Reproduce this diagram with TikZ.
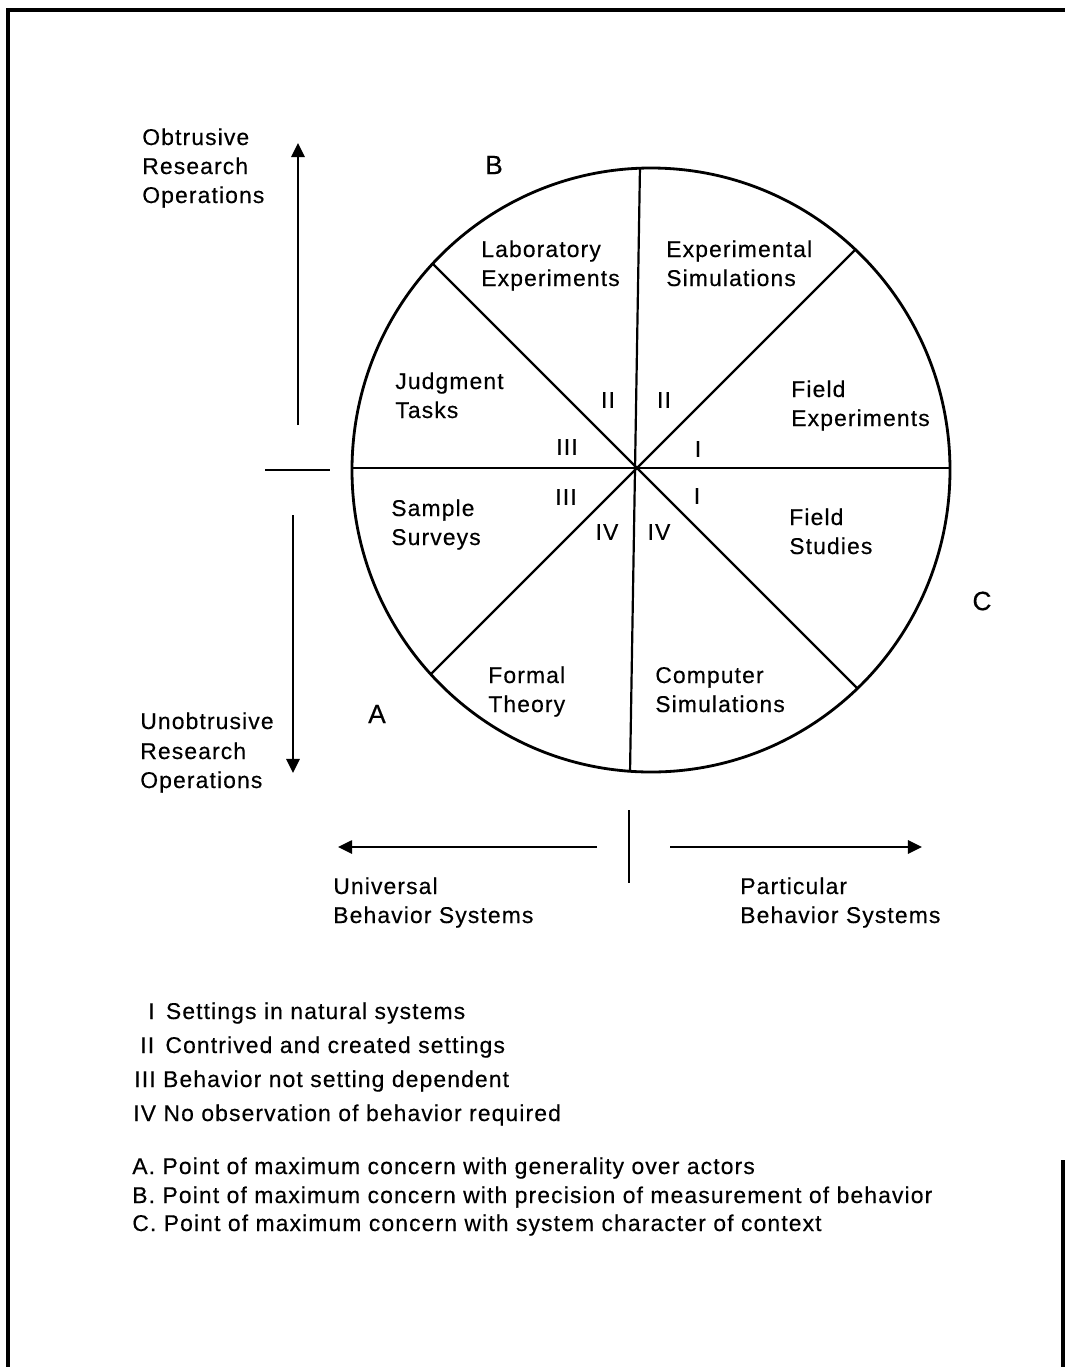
\documentclass[tikz,border=0pt]{standalone}
\usepackage{fontspec}
\setmainfont[LetterSpace=5,BoldFont={Liberation Sans},BoldFeatures={FakeBold=0.4,LetterSpace=5}]{Liberation Sans}
\usetikzlibrary{arrows.meta}
\begin{document}
\begin{tikzpicture}[x=0.02cm,y=-0.02cm,
  txt/.style={anchor=base west,inner sep=0pt,font=\fontsize{13}{16}\selectfont\bfseries},
  num/.style={anchor=center,inner sep=0pt,font=\fontsize{13}{16}\selectfont\bfseries},
  letter/.style={anchor=center,inner sep=0pt,font=\fontsize{15}{18}\selectfont\bfseries},
  axis/.style={line width=1.3pt,-{Triangle[length=8pt,width=7.5pt]}},
  rim/.style={line width=1.6pt},
  spoke/.style={line width=1.25pt}]
\useasboundingbox (0,0) rectangle (1065,1367);
% frame
\draw[line width=2.6pt] (8,1367) -- (8,10) -- (1065,10);
\draw[line width=1.8pt] (1063,1160) -- (1063,1367);

% circle and its spokes
\coordinate (O) at (637,468);
\draw[rim] (651,470) ellipse (299 and 302);
\begin{scope}
  \clip (651,470) ellipse (299 and 302);
  \draw[spoke] (O) -- ++(-400,-400);
  \draw[spoke] (O) -- ++(400,-400);
  \draw[spoke] (O) -- ++(400,400);
  \draw[spoke] (O) -- ++(-400,400);
  \draw[spoke] (300,468) -- (1000,468);
  \draw[spoke] (640.6,130) -- (629.4,810);
\end{scope}

% sector labels
\node[txt] (lab1) at (481,257) {Laboratory};
\node[txt] (lab2) at (481,286) {Experiments};
\node[txt] (exs1) at (666,257) {Experimental};
\node[txt] (exs2) at (666,286) {Simulations};
\node[txt] (jud1) at (395,389) {Judgment};
\node[txt] (jud2) at (395,418) {Tasks};
\node[txt] (fex1) at (791,397) {Field};
\node[txt] (fex2) at (791,426) {Experiments};
\node[txt] (sam1) at (391,516) {Sample};
\node[txt] (sam2) at (391,545) {Surveys};
\node[txt] (fst1) at (789,525) {Field};
\node[txt] (fst2) at (789,554) {Studies};
\node[txt] (fth1) at (488,683) {Formal};
\node[txt] (fth2) at (488,712) {Theory};
\node[txt] (csi1) at (655,683) {Computer};
\node[txt] (csi2) at (655,712) {Simulations};

% setting classes inside the circle
\node[num] (n1) at (608,400) {II};
\node[num] (n2) at (664,400) {II};
\node[num] (n3) at (567,447) {III};
\node[num] (n4) at (698,449) {I};
\node[num] (n5) at (566,497) {III};
\node[num] (n6) at (697,496) {I};
\node[num] (n7) at (607,532) {IV};
\node[num] (n8) at (659,532) {IV};

% points A, B, C
\node[letter] (pB) at (494,165) {B};
\node[letter] (pA) at (377,714) {A};
\node[letter] (pC) at (982,601) {C};

% vertical axis
\node[txt] (ob1) at (142,145) {Obtrusive};
\node[txt] (ob2) at (142,174) {Research};
\node[txt] (ob3) at (142,203) {Operations};
\node[txt] (un1) at (140,729) {Unobtrusive};
\node[txt] (un2) at (140,759) {Research};
\node[txt] (un3) at (140,788) {Operations};
\coordinate (vtop0) at (298,425);
\coordinate (vtop1) at (298,143);
\coordinate (vbot0) at (293,515);
\coordinate (vbot1) at (293,773);
\draw[axis] (vtop0) -- (vtop1);
\draw[axis] (vbot0) -- (vbot1);
\draw[spoke] (265,470) -- (330,470);

% horizontal axis
\coordinate (hl0) at (597,847);
\coordinate (hl1) at (338,847);
\coordinate (hr0) at (670,847);
\coordinate (hr1) at (922,847);
\draw[axis] (hl0) -- (hl1);
\draw[axis] (hr0) -- (hr1);
\draw[spoke] (629,810) -- (629,883);
\node[txt] (uni1) at (333,894) {Universal};
\node[txt] (uni2) at (333,923) {Behavior Systems};
\node[txt] (par1) at (740,894) {Particular};
\node[txt] (par2) at (740,923) {Behavior Systems};

% legend
\node[txt] (k1) at (148,1019) {I\, Settings in natural systems};
\node[txt] (k2) at (140,1053) {II\, Contrived and created settings};
\node[txt] (k3) at (134,1087) {III Behavior not setting dependent};
\node[txt] (k4) at (133,1121) {IV No observation of behavior required};
\node[txt] (ka) at (132,1174) {A. Point of maximum concern with generality over actors};
\node[txt] (kb) at (132,1203) {B. Point of maximum concern with precision of measurement of behavior};
\node[txt] (kc) at (132,1231) {C. Point of maximum concern with system character of context};
\end{tikzpicture}
\end{document}
